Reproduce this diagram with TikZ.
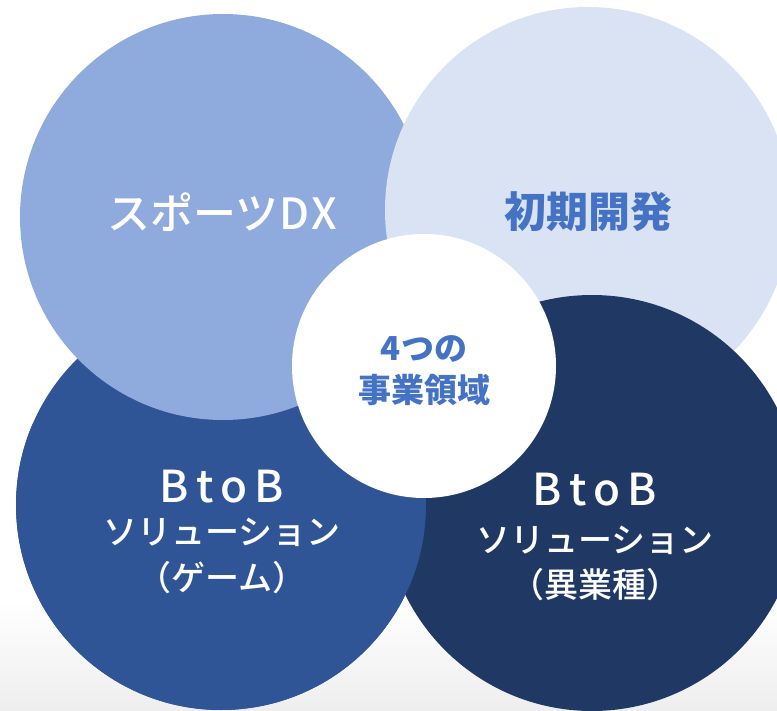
\documentclass[tikz,border=0pt]{standalone}
\usepackage{fontspec}
\newfontfamily\jp{Noto Sans CJK JP}
\newfontfamily\jpm{Noto Sans CJK JP}[UprightFont={* Medium}]
\definecolor{cTL}{HTML}{8FAADC}
\definecolor{cTR}{HTML}{DAE3F3}
\definecolor{cBL}{HTML}{2F5597}
\definecolor{cBR}{HTML}{203864}
\definecolor{cTxt}{HTML}{4472C4}
\definecolor{cFloor}{HTML}{EEEEEE}
\tikzset{
  whitelbl/.style={text=white,font=\jpm\fontsize{34}{36}\selectfont,inner sep=0pt},
  bluelbl/.style={text=cTxt,font=\jp\bfseries\fontsize{33}{36}\selectfont,inner sep=0pt},
}
\newcommand{\spacedBtoB}{B\hspace{7pt}t\hspace{7pt}o\hspace{7pt}B}
\begin{document}
\begin{tikzpicture}[x=1pt,y=-1pt]
\useasboundingbox (0,0) rectangle (777,711);
\shade[top color=white,bottom color=cFloor] (0,600) rectangle (777,711);
% circles
\fill[cBL] (221,505) circle (205);
\fill[cTL] (223,217) circle (203);
\fill[cTR] (588,210) circle (203);
\fill[cBR] (592,503) circle (208);
\begin{scope}
  \clip (0,425) rectangle (777,711);
  \fill[cBL] (221,505) circle (205);
\end{scope}
\fill[white] (424,366) circle (132);
% labels
\node[whitelbl,font=\jpm\fontsize{43}{46}\selectfont] (sdx) at (222,212) {スポーツ\hspace{1pt}D\hspace{2pt}X};
\node[bluelbl,font=\jp\bfseries\fontsize{42}{46}\selectfont] (shoki) at (588,212) {初期開発};
\node[bluelbl] (c1) at (424,349) {4つの};
\node[bluelbl] (c2) at (424,390) {事業領域};
\node[whitelbl,font=\jpm\fontsize{44}{48}\selectfont] (bl1) at (222,487) {\spacedBtoB};
\node[whitelbl] (bl2) at (222,532) {ソリューション};
\node[whitelbl] (bl3) at (222,578) {（ゲーム）};
\node[whitelbl,font=\jpm\fontsize{44}{48}\selectfont] (br1) at (595,490) {\spacedBtoB};
\node[whitelbl] (br2) at (595,540) {ソリューション};
\node[whitelbl] (br3) at (595,585) {（異業種）};
\end{tikzpicture}
\end{document}
